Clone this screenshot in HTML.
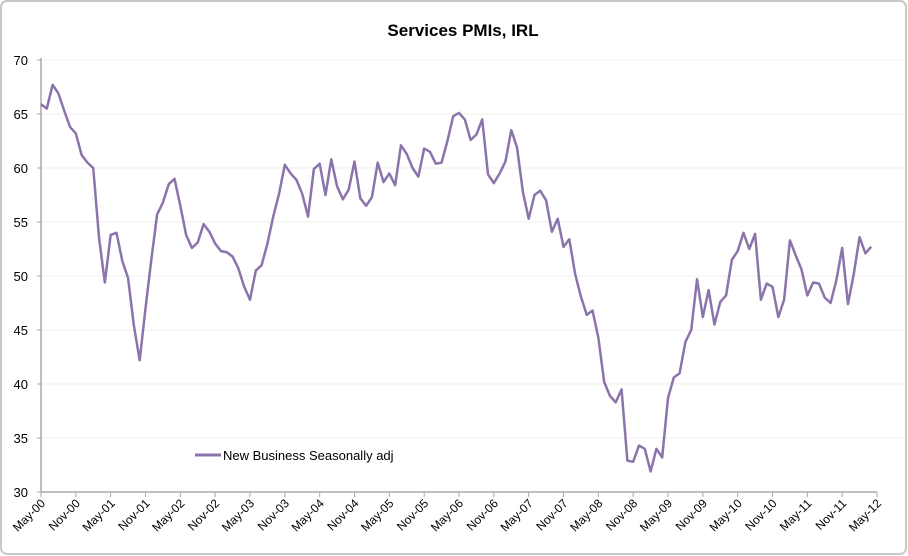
<!DOCTYPE html>
<html><head><meta charset="utf-8"><style>
body{margin:0;background:#fff;}
svg{display:block;font-family:"Liberation Sans",sans-serif;}
</style></head><body>
<svg width="908" height="556">
<rect x="1" y="1" width="905" height="553" rx="6" fill="#fff" stroke="#c8c8c8" stroke-width="2"/>
<text x="463" y="36" text-anchor="middle" font-weight="bold" font-size="17" fill="#000">Services PMIs, IRL</text>
<g id="grid"></g><g id="axes"></g><g id="series"></g>
<g>
<line x1="195" y1="455" x2="221" y2="455" stroke="#8b74ab" stroke-width="3"/>
<text x="223" y="460" font-size="13" fill="#000">New Business Seasonally adj</text>
</g>
</svg>
<script>
const values=[65.9,65.5,67.7,66.9,65.3,63.8,63.2,61.2,60.5,60.0,53.5,49.4,
53.8,54.0,51.4,49.8,45.4,42.2,47.0,51.5,55.7,56.8,58.5,59.0,
56.5,53.8,52.6,53.1,54.8,54.1,53.0,52.3,52.2,51.8,50.7,49.0,
47.8,50.5,51.0,53.0,55.5,57.6,60.3,59.5,58.9,57.6,55.5,59.9,
60.4,57.5,60.8,58.3,57.1,58.0,60.6,57.2,56.5,57.3,60.5,58.7,
59.5,58.4,62.1,61.3,60.0,59.2,61.8,61.5,60.4,60.5,62.5,64.8,
65.1,64.5,62.6,63.1,64.5,59.4,58.6,59.5,60.6,63.5,61.9,57.8,
55.3,57.5,57.9,57.0,54.1,55.3,52.7,53.4,50.2,48.1,46.4,46.8,
44.3,40.2,38.9,38.3,39.5,32.9,32.8,34.3,34.0,31.9,34.0,33.2,
38.7,40.6,41.0,43.9,45.0,49.7,46.2,48.7,45.5,47.6,48.2,51.5,
52.3,54.0,52.5,53.9,47.8,49.3,49.0,46.2,47.8,53.3,51.9,50.6,
48.2,49.4,49.3,48.0,47.5,49.6,52.6,47.4,50.2,53.6,52.1,52.7];
const xLabels=["May-00","Nov-00","May-01","Nov-01","May-02","Nov-02","May-03","Nov-03","May-04","Nov-04","May-05","Nov-05","May-06","Nov-06","May-07","Nov-07","May-08","Nov-08","May-09","Nov-09","May-10","Nov-10","May-11","Nov-11","May-12"];
const yTicks=[30,35,40,45,50,55,60,65,70];
const NS="http://www.w3.org/2000/svg";
const x0=41,x1=877,y0=492,y1=60,ymin=30,ymax=70;
const X=i=>x0+(x1-x0)*i/144;
const Y=v=>y0-(v-ymin)/(ymax-ymin)*(y0-y1);
function mk(t,a,p){const e=document.createElementNS(NS,t);for(const k in a)e.setAttribute(k,a[k]);p.appendChild(e);return e;}
const grid=document.getElementById('grid'),axes=document.getElementById('axes'),series=document.getElementById('series');
yTicks.forEach(v=>{
 if(v>ymin){const g=mk('line',{x1:x0,x2:905,y1:Y(v),y2:Y(v),stroke:'#efefe8','stroke-width':1},grid);
 
 }
 const tk=mk('line',{x1:x0-4,x2:x0,y1:Y(v),y2:Y(v),stroke:'#aaa'},axes);
 
 
 const t=mk('text',{x:28,y:Y(v)+5,'text-anchor':'end','font-size':13},axes);t.textContent=v;
 
 
});
const ya=mk('line',{x1:x0,x2:x0,y1:y1-2,y2:y0,stroke:'#aaa','stroke-width':1.5},axes);


const xa=mk('line',{x1:x0,x2:x1,y1:y0,y2:y0,stroke:'#aaa','stroke-width':1.5},axes);


xLabels.forEach((l,k)=>{const x=X(k*6);
 const tk=mk('line',{x1:x,x2:x,y1:y0,y2:y0+5,stroke:'#aaa'},axes);
 
 
 const t=mk('text',{x:x+5,y:y0+12,'text-anchor':'end','font-size':12,transform:`rotate(-45 ${x+5} ${y0+12})`},axes);t.textContent=l;
 
 
});
const p=mk('polyline',{points:values.map((v,i)=>X(i)+','+Y(v)).join(' '),fill:'none',stroke:'#8b74ab','stroke-width':2.5,'stroke-linejoin':'round'},series);


</script>
</body></html>
